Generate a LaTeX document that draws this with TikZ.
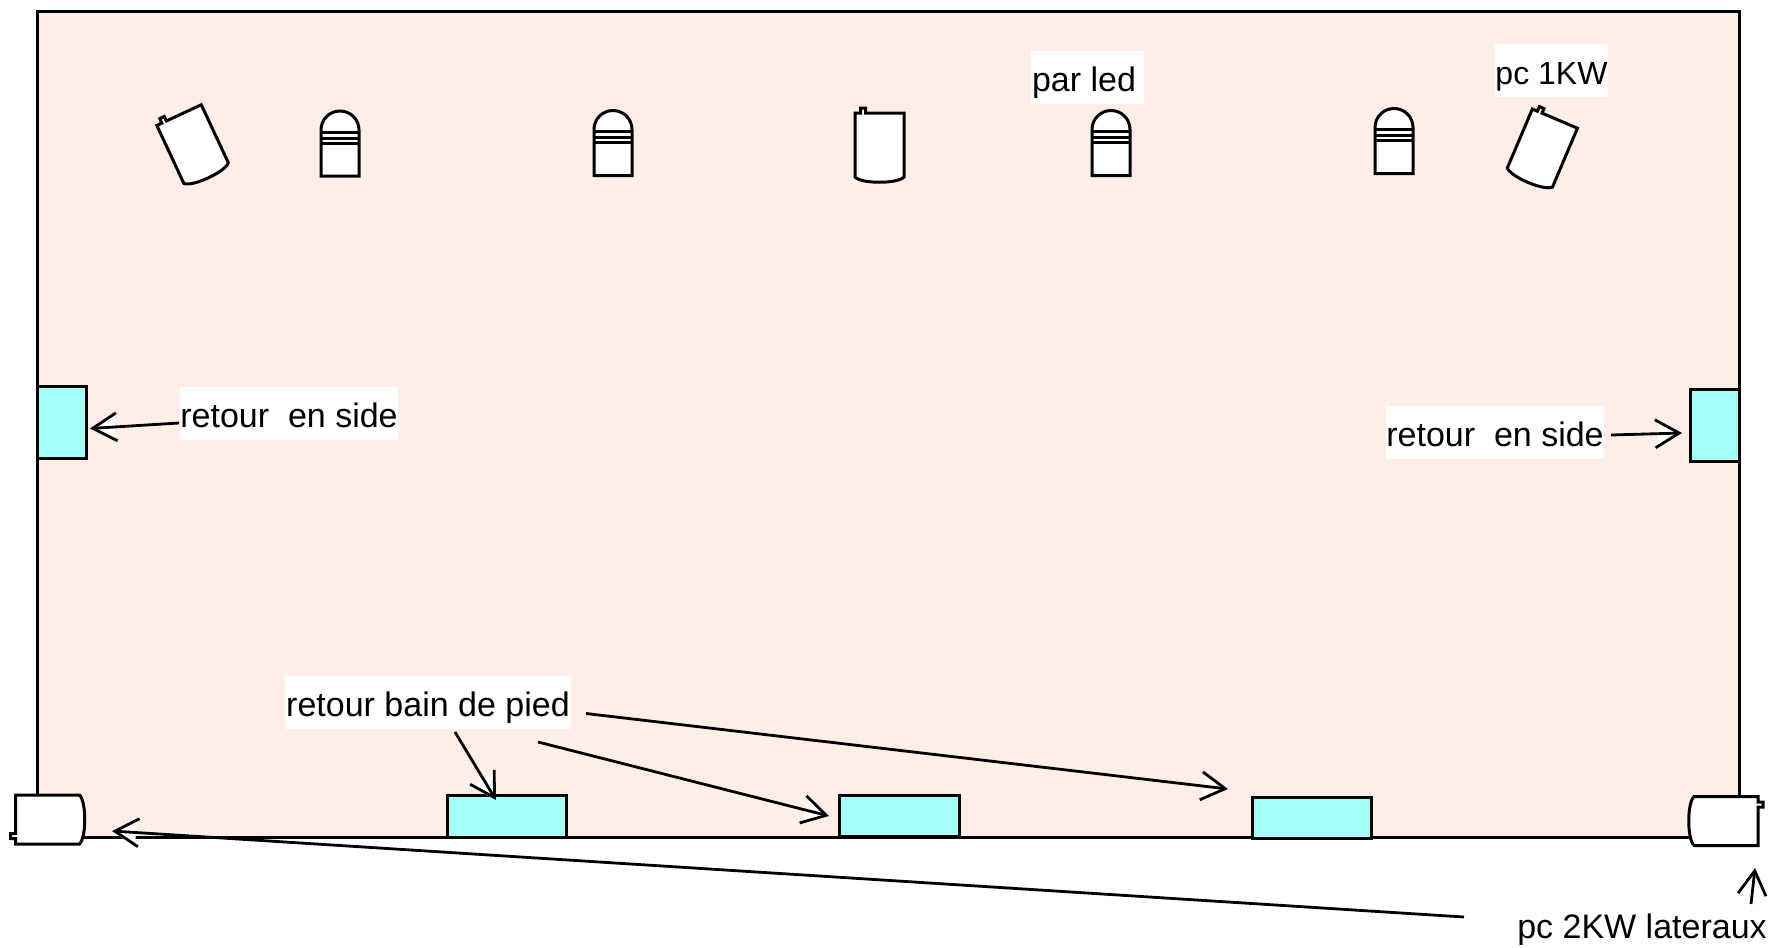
\documentclass[tikz,border=0pt]{standalone}
\usepackage{fontspec}
\setmainfont{Liberation Sans}
\usetikzlibrary{arrows.meta}
\definecolor{stagebg}{HTML}{FFEEE8}
\definecolor{cyanbox}{HTML}{A6FFF6}
\tikzset{
  x=1pt,y=-1pt,
  ink/.style={draw=black,line width=3pt,line join=miter},
  lbl/.style={fill=white,text=black,font=\fontsize{34}{38}\selectfont,inner sep=0pt,text height=28pt,text depth=0pt,anchor=center},
  refbox/.style={ink,fill=cyanbox,inner sep=0pt},
  wedge/.style={draw=white,line width=0.2pt,-{Triangle[length=24pt,width=28pt,color=white,fill=white]}},
  conn/.style={draw=black,line width=2.8pt,-{Straight Barb[length=24pt,width=28pt,line width=2.8pt]}},
  pcshape/.pic={
    \path[ink,fill=white] (-24.5,-33) -- (-19,-33) -- (-19,-38) -- (-14,-38) -- (-14,-33) -- (24.5,-33) -- (24.5,31)
      .. controls (18,38) and (-18,38) .. (-24.5,31) -- cycle;
  },
  parshape/.pic={
    \path[ink,fill=white] (-19,0) -- (-19,-46) arc[start angle=180,end angle=360,radius=19] -- (19,0) -- cycle;
    \draw[ink] (-19,-44) -- (19,-44) (-19,-38) -- (19,-38) (-19,-33) -- (19,-33);
  }
}
\begin{document}
\begin{tikzpicture}
\useasboundingbox (0,0) rectangle (1773,948);
\fill[white] (0,0) rectangle (1773,948);
\path[ink,fill=stagebg] (37,11) rectangle (1739,837);
% lamps
\pic[rotate=25] at (193,145) {pcshape};
\pic at (340,176) {parshape};
\pic at (613,175.5) {parshape};
\pic at (879.5,146) {pcshape};
\pic at (1111,175.5) {parshape};
\pic at (1394,173.5) {parshape};
\pic[rotate=-23] at (1542,149) {pcshape};
\pic[rotate=90] at (48.5,819.5) {pcshape};
\pic[rotate=-90] at (1725,821) {pcshape};
% boxes
\node[refbox,minimum width=49pt,minimum height=72pt] (sideL) at (61.5,422) {};
\node[refbox,minimum width=49pt,minimum height=72pt] (sideR) at (1714.5,425) {};
\node[refbox,minimum width=119pt,minimum height=41.5pt] (footA) at (506.5,816.25) {};
\node[refbox,minimum width=120pt,minimum height=41.5pt] (footB) at (899,815.75) {};
\node[refbox,minimum width=119pt,minimum height=41.5pt] (footC) at (1311.5,817.75) {};
% labels
\node[lbl,minimum width=113pt,minimum height=53pt] (parled) at (1087.5,77.5) {par led\hspace*{7pt}};
\node[lbl,font=\fontsize{32}{36}\selectfont,minimum width=113pt,minimum height=53pt] (pcone) at (1551.5,70) {pc 1KW};
\node[lbl,minimum width=218pt,minimum height=53pt] (retL) at (289,413.5) {retour\ \ en side};
\node[lbl,minimum width=218pt,minimum height=53pt] (retR) at (1495,432.5) {retour\ \ en side};
\node[lbl,minimum width=286pt,minimum height=53pt] (bain) at (428,702.5) {retour bain de pied};
\node[lbl,fill=none] (pctwo) at (1642,924) {pc 2KW lateraux};
% connector ends
\coordinate (tipL) at (90,428.5);
\coordinate (tipR) at (1682,433);
\coordinate (tipA) at (496,800);
\coordinate (tipB) at (829,816);
\coordinate (tipC) at (1228,789);
\coordinate (tipLamp) at (112,831);
\coordinate (tipLampR) at (1755,868);
\coordinate (startL) at (179,423);
\coordinate (startR) at (1611,435);
\coordinate (startA) at (455,732);
\coordinate (startB) at (538,742);
\coordinate (startC) at (586,713.5);
\coordinate (startLamp) at (1464,917);
\coordinate (startLampR) at (1751,904);
\foreach \s/\t in {startL/tipL,startR/tipR,startA/tipA,startB/tipB,startC/tipC,startLamp/tipLamp,startLampR/tipLampR}{
  \draw[wedge] (\s) -- (\t);
  \draw[conn] (\s) -- (\t);
}
\end{tikzpicture}
\end{document}
